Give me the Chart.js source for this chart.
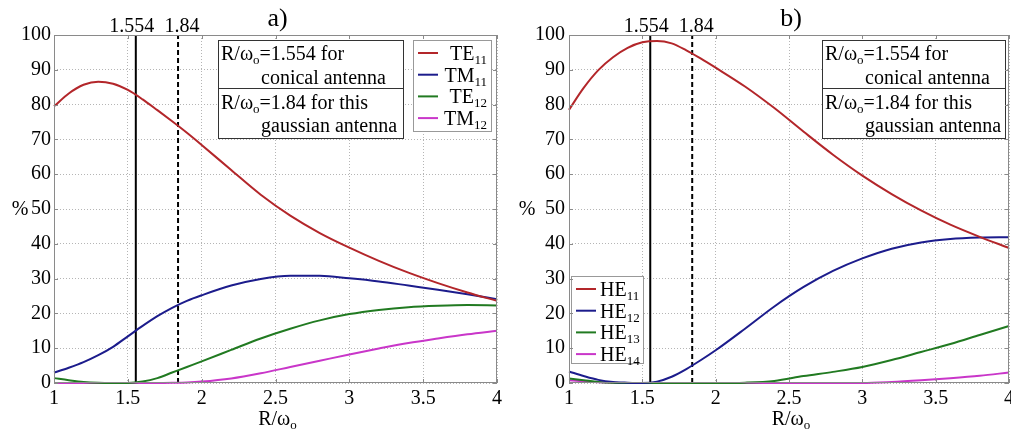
<!DOCTYPE html>
<html lang="en">
<head>
<meta charset="UTF-8">
<title>Mode content vs R/wo</title>
<style>
    body { margin: 0; background: #fff; }
    .wrap { position: relative; width: 1011px; height: 430px; }
    canvas { position: absolute; top: 0; }
    #chartA { left: 0; }
    #chartB { left: 511px; }
</style>
</head>
<body>
<div class="wrap">
    <canvas id="chartA" width="511" height="430"></canvas>
    <canvas id="chartB" width="500" height="430"></canvas>
</div>

<script src="https://cdn.jsdelivr.net/npm/chart.js"></script>
<script>
// R/wo sample points (shared by both panels)
const ratio = [1, 1.1, 1.2, 1.3, 1.4, 1.5, 1.6, 1.7, 1.8, 1.9, 2, 2.2, 2.4, 2.6, 2.8, 3, 3.2, 3.4, 3.6, 3.8, 4];

// panel a) conical antenna modes, %
const te11 = [79.5, 83.2, 85.7, 86.6, 86.0, 84.2, 81.5, 78.4, 75.2, 71.9, 68.4, 61.2, 54.1, 48.1, 43.1, 38.9, 35.1, 31.7, 28.7, 26.0, 23.6];
const tm11 = [3.0, 4.4, 6.0, 8.0, 10.4, 13.4, 16.4, 19.2, 21.6, 23.6, 25.2, 28.0, 29.9, 30.8, 30.8, 30.1, 29.2, 28.0, 26.8, 25.5, 24.1];
const te12 = [1.4, 0.8, 0.3, 0.05, 0, 0, 0.4, 1.4, 3.0, 4.6, 6.2, 9.5, 12.8, 15.6, 18.0, 19.8, 21.0, 21.8, 22.2, 22.4, 22.3];
const tm12 = [0, 0, 0, 0, 0, 0, 0, 0, 0.05, 0.15, 0.4, 1.3, 2.8, 4.6, 6.4, 8.2, 9.9, 11.5, 12.8, 14.0, 15.0];

// panel b) gaussian antenna modes, %
const he11 = [78.5, 84.8, 89.9, 93.6, 96.3, 97.9, 98.3, 97.6, 95.6, 93.2, 90.6, 85.2, 79.0, 72.2, 65.6, 59.6, 54.3, 49.6, 45.5, 42.0, 38.8];
const he12 = [3.3, 2.0, 0.9, 0.3, 0.1, 0, 0.4, 1.8, 4.0, 6.6, 9.4, 15.6, 22.0, 27.6, 32.2, 35.8, 38.6, 40.4, 41.4, 41.8, 41.9];
const he13 = [1.3, 0.8, 0.3, 0.05, 0, 0, 0, 0, 0, 0, 0, 0.1, 0.6, 2.0, 3.2, 4.6, 6.6, 8.9, 11.2, 13.8, 16.4];
const he14 = [0.8, 0.5, 0.2, 0.05, 0, 0, 0, 0, 0, 0, 0, 0, 0, 0, 0, 0, 0.3, 0.8, 1.4, 2.1, 3.0];

// axis ticks and marker positions
const xTicks = [1, 1.5, 2, 2.5, 3, 3.5, 4];
const yTicks = [0, 10, 20, 30, 40, 50, 60, 70, 80, 90, 100];
const conicalMark = 1.554;
const gaussMark = 1.84;

const RED = '#b3262a', BLUE = '#1c1c8c', GREEN = '#217a21', MAGENTA = '#c936c9';
const FONT = '20px "Liberation Serif"';
const SUB = '13px "Liberation Serif"';

Chart.defaults.font.family = '"Liberation Serif", serif';
Chart.defaults.font.size = 20;
Chart.defaults.color = '#000';

// draws text made of [string, isSubscript] pieces
function rich(ctx, parts, x, y, align) {
    const w = parts.map(p => { ctx.font = p[1] ? SUB : FONT; return ctx.measureText(p[0]).width; });
    const total = w.reduce((a, b) => a + b, 0);
    let cx = align === 'right' ? x - total : align === 'center' ? x - total / 2 : x;
    ctx.textAlign = 'left';
    ctx.textBaseline = 'alphabetic';
    parts.forEach((p, i) => {
        ctx.font = p[1] ? SUB : FONT;
        ctx.fillText(p[0], cx, y + (p[1] ? 4 : 0));
        cx += w[i];
    });
}

function decor(cfg) {
    return {
        id: 'decor',
        afterDatasetsDraw(chart) {
            const ctx = chart.ctx;
            const xs = chart.scales.x;
            ctx.save();
            ctx.fillStyle = '#000';
            // marker labels above the plot
            ctx.font = FONT;
            ctx.textAlign = 'center';
            ctx.textBaseline = 'alphabetic';
            ctx.fillText('1.554', xs.getPixelForValue(conicalMark) - 4, 32);
            ctx.fillText('1.84', xs.getPixelForValue(gaussMark) + 4, 32);

            // annotation box
            const b = cfg.note;
            ctx.fillStyle = '#fff';
            ctx.fillRect(b.x, b.y, b.w, b.h);
            ctx.strokeStyle = '#333';
            ctx.lineWidth = 1;
            ctx.strokeRect(b.x + 0.5, b.y + 0.5, b.w, b.h);
            ctx.beginPath();
            ctx.moveTo(b.x, b.y + 48.5);
            ctx.lineTo(b.x + b.w, b.y + 48.5);
            ctx.stroke();
            ctx.fillStyle = '#000';
            rich(ctx, [['R/ω', 0], ['o', 1], ['=1.554 for', 0]], b.x + 3, b.y + 20);
            rich(ctx, [['conical antenna', 0]], b.x + 43, b.y + 44);
            rich(ctx, [['R/ω', 0], ['o', 1], ['=1.84 for this', 0]], b.x + 3, b.y + 69);
            rich(ctx, [['gaussian antenna', 0]], b.x + 43, b.y + 92);

            // legend
            const L = cfg.legend;
            ctx.fillStyle = '#fff';
            ctx.fillRect(L.x, L.y, L.w, L.h);
            ctx.strokeStyle = '#999';
            ctx.strokeRect(L.x + 0.5, L.y + 0.5, L.w, L.h);
            chart.data.datasets.filter(d => d.mode).forEach((d, i) => {
                const y = L.y + 13 + i * 21.7;
                ctx.strokeStyle = d.borderColor;
                ctx.lineWidth = 2;
                ctx.beginPath();
                ctx.moveTo(L.x + 5, y);
                ctx.lineTo(L.x + 25, y);
                ctx.stroke();
                ctx.fillStyle = '#000';
                if (L.right) rich(ctx, [[d.mode, 0], [d.sub, 1]], L.x + L.w - 4, y + 7, 'right');
                else rich(ctx, [[d.mode, 0], [d.sub, 1]], L.x + 29, y + 7);
            });
            ctx.restore();
        },
        afterDraw(chart) {
            const ctx = chart.ctx;
            const a = chart.chartArea;
            const xs = chart.scales.x, ys = chart.scales.y;
            ctx.save();
            // axes box with inward ticks
            ctx.strokeStyle = '#8a8a8a';
            ctx.lineWidth = 1;
            ctx.strokeRect(a.left + 0.5, a.top + 0.5, a.right - a.left - 1, a.bottom - a.top - 1);
            ctx.beginPath();
            xTicks.forEach(v => {
                const px = Math.round(xs.getPixelForValue(v)) + 0.5;
                ctx.moveTo(px, a.bottom); ctx.lineTo(px, a.bottom - 4);
                ctx.moveTo(px, a.top); ctx.lineTo(px, a.top + 4);
            });
            yTicks.forEach(v => {
                const py = Math.round(ys.getPixelForValue(v)) + 0.5;
                ctx.moveTo(a.left, py); ctx.lineTo(a.left + 4, py);
                ctx.moveTo(a.right, py); ctx.lineTo(a.right - 4, py);
            });
            ctx.stroke();

            ctx.fillStyle = '#000';
            // panel title
            ctx.font = '26px "Liberation Serif"';
            ctx.textAlign = 'center';
            ctx.textBaseline = 'alphabetic';
            ctx.fillText(cfg.title, (a.left + a.right) / 2 + 2, 26);
            // axis titles
            rich(ctx, [['R/ω', 0], ['o', 1]], (a.left + a.right) / 2 + 2, 425, 'center');
            ctx.font = FONT;
            ctx.textAlign = 'center';
            ctx.textBaseline = 'middle';
            ctx.fillText('%', cfg.pctX, (a.top + a.bottom) / 2 + 1);
            ctx.restore();
        }
    };
}

function series(label, sub, values, color) {
    return {
        mode: label, sub: sub,
        data: ratio.map((r, i) => ({ x: r, y: values[i] })),
        borderColor: color, borderWidth: 2, pointRadius: 0,
        cubicInterpolationMode: 'monotone', clip: 4
    };
}

function marker(value, dash) {
    return {
        data: [{ x: value, y: 0 }, { x: value, y: 100 }],
        borderColor: '#000', borderWidth: 2, borderDash: dash, pointRadius: 0
    };
}

function makePanel(id, datasets, cfg) {
    new Chart(document.getElementById(id), {
        type: 'line',
        data: { datasets: datasets.concat([marker(conicalMark, []), marker(gaussMark, [5, 3])]) },
        options: {
            responsive: false,
            animation: false,
            layout: { padding: { left: 0, right: cfg.padRight, top: 35, bottom: 0 } },
            plugins: { legend: { display: false }, tooltip: { enabled: false } },
            scales: {
                x: {
                    type: 'linear', min: xTicks[0], max: xTicks[xTicks.length - 1],
                    afterBuildTicks: s => { s.ticks = xTicks.map(v => ({ value: v })); },
                    afterFit: s => { s.height = 47; s.paddingLeft = 0; s.paddingRight = 0; },
                    ticks: { padding: 4, autoSkip: false, maxRotation: 0, callback: v => String(v) },
                    grid: { color: '#b5b5b5', drawTicks: false },
                    border: { display: false, dash: [1, 2] }
                },
                y: {
                    min: yTicks[0], max: yTicks[yTicks.length - 1],
                    afterBuildTicks: s => { s.ticks = yTicks.map(v => ({ value: v })); },
                    afterFit: s => { s.width = cfg.yWidth; s.paddingTop = 0; s.paddingBottom = 0; },
                    ticks: { padding: cfg.yPad, callback: v => String(v) },
                    grid: { color: '#b5b5b5', drawTicks: false },
                    border: { display: false, dash: [1, 2] }
                }
            }
        },
        plugins: [decor(cfg)]
    });
}

makePanel('chartA', [
    series('TE', '11', te11, RED),
    series('TM', '11', tm11, BLUE),
    series('TE', '12', te12, GREEN),
    series('TM', '12', tm12, MAGENTA)
], {
    title: 'a)', yWidth: 54, yPad: 3, padRight: 14, pctX: 20,
    note: { x: 218, y: 40, w: 185, h: 98 },
    legend: { x: 413, y: 40, w: 78, h: 91, right: true }
});

makePanel('chartB', [
    series('HE', '11', he11, RED),
    series('HE', '12', he12, BLUE),
    series('HE', '13', he13, GREEN),
    series('HE', '14', he14, MAGENTA)
], {
    title: 'b)', yWidth: 58, yPad: 4, padRight: 2, pctX: 16,
    note: { x: 311, y: 40, w: 183, h: 98 },
    legend: { x: 60, y: 276, w: 72, h: 87, right: false }
});
</script>
</body>
</html>
